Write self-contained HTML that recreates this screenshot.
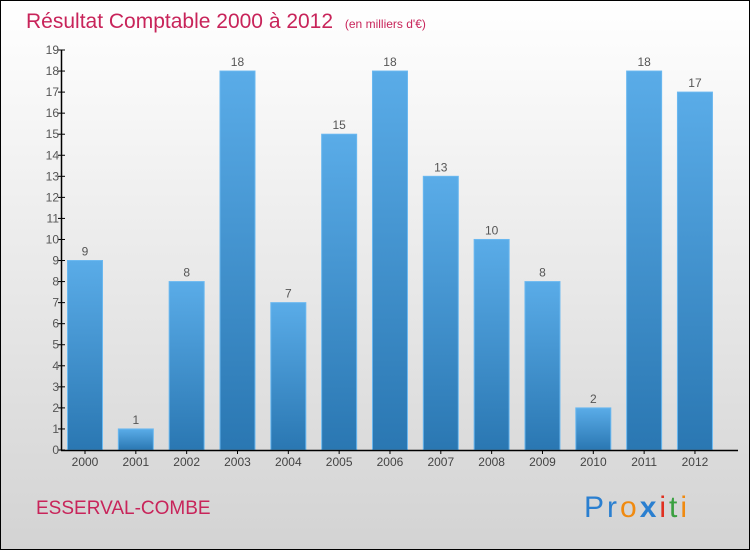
<!DOCTYPE html>
<html><head><meta charset="utf-8"><style>
body{margin:0}
#c{position:relative;width:748px;height:548px;border:1px solid #000;background:linear-gradient(#fff,#d3d3d3);font-family:"Liberation Sans",sans-serif;overflow:hidden}
</style></head><body>
<div id="c">
<svg width="748" height="548" viewBox="0 0 748 548" id="s">
<defs><linearGradient id="g" x1="0" y1="0" x2="0" y2="1"><stop offset="0" stop-color="#5aace8"/><stop offset="1" stop-color="#2a77b2"/></linearGradient></defs>
<text x="25" y="27" font-size="21" fill="#c8245a" font-family="Liberation Sans,sans-serif">Résultat Comptable 2000 à 2012 <tspan font-size="12" dx="6">(en milliers d'€)</tspan></text>
<text x="35" y="513" font-size="19" fill="#c8245a" font-family="Liberation Sans,sans-serif">ESSERVAL-COMBE</text>
<text x="583" y="516" font-size="30" letter-spacing="3" font-family="Liberation Sans,sans-serif"><tspan fill="#2a7fd0">Pr</tspan><tspan fill="#f08a10">o</tspan><tspan fill="#2a7fd0" font-weight="bold">x</tspan><tspan fill="#e03020">i</tspan><tspan fill="#3aa040">t</tspan><tspan fill="#f08a10">i</tspan></text>
<g id="plot"></g>
</svg>
</div>
<script>
const years=["2000","2001","2002","2003","2004","2005","2006","2007","2008","2009","2010","2011","2012"];
const values=[9,1,8,18,7,15,18,13,10,8,2,18,17];
const yTicks=[0,1,2,3,4,5,6,7,8,9,10,11,12,13,14,15,16,17,18,19];
const NS="http://www.w3.org/2000/svg";
const p=document.getElementById('plot');
const y0=449,yTop=49,ymax=19;
function ys(v){return y0-(y0-yTop)*v/ymax;}
const x0=84,step=50.83,bw=35;
function xs(i){return x0+i*step;}
function mk(t,a){const e=document.createElementNS(NS,t);for(const k in a)e.setAttribute(k,a[k]);p.appendChild(e);return e;}
values.forEach((v,i)=>{
 const r=mk('rect',{x:xs(i)-bw/2,y:ys(v),width:bw,height:y0-ys(v),fill:'url(#g)',stroke:'#6ab8f0','stroke-width':1});
 
 
 const t=mk('text',{x:xs(i),y:ys(v)-5,'text-anchor':'middle','font-size':12,fill:'#555'});
 t.textContent=v;
 
 
 const tk=mk('line',{x1:xs(i),x2:xs(i),y1:y0,y2:y0+4,stroke:'#000'});
 
 
 const l=mk('text',{x:xs(i),y:y0+16,'text-anchor':'middle','font-size':12,fill:'#444'});
 l.textContent=years[i];
 
 
});
yTicks.forEach(v=>{
 const tk=mk('line',{x1:57,x2:64,y1:ys(v),y2:ys(v),stroke:'#000'});
 
 
 const t=mk('text',{x:58,y:ys(v)+4,'text-anchor':'end','font-size':12,fill:'#555'});
 t.textContent=v;
 
 
});
const ya=mk('line',{x1:60.5,x2:60.5,y1:yTop,y2:y0,stroke:'#000','stroke-width':1.5});


const xa=mk('line',{x1:60,x2:737,y1:y0+0.5,y2:y0+0.5,stroke:'#000','stroke-width':1.5});


</script>
</body></html>
